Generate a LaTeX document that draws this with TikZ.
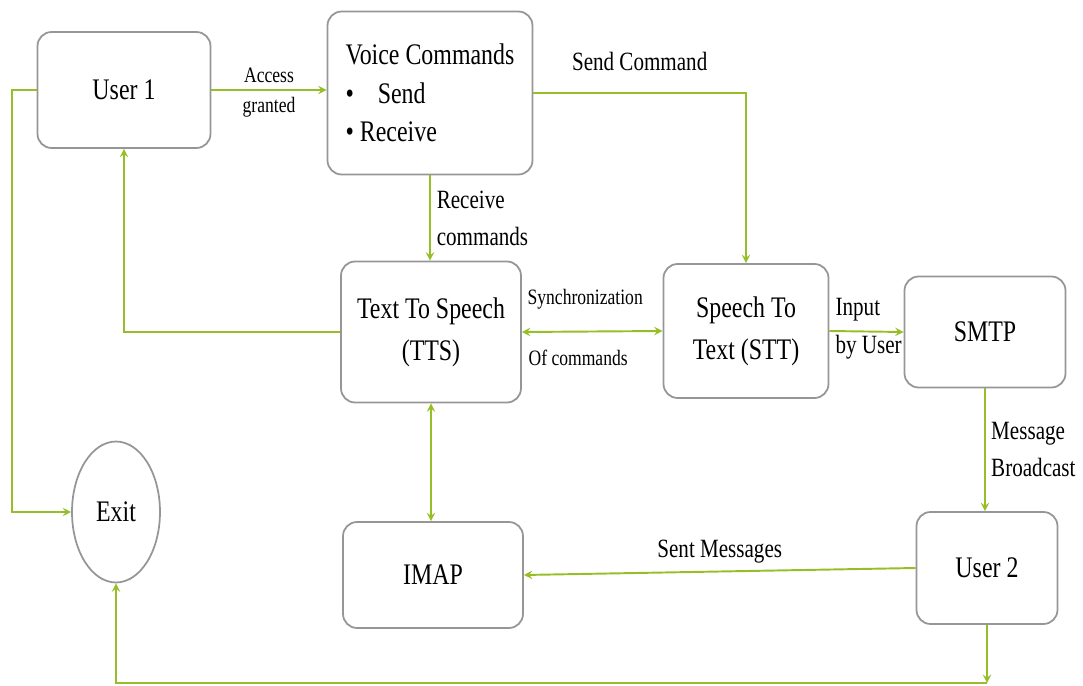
\documentclass[tikz,border=0pt]{standalone}
\usepackage{fontspec}
\setmainfont[FakeStretch=0.8]{Liberation Serif}
\usetikzlibrary{shapes.geometric, arrows}
\definecolor{linegreen}{RGB}{150,190,40}
\definecolor{boxgray}{RGB}{150,150,150}
\tikzstyle{block} = [rectangle, rounded corners=8pt, draw=boxgray, line width=1pt, align=center, inner sep=2pt, font=\fontsize{17}{24}\selectfont]
\tikzstyle{exitnode} = [ellipse, draw=boxgray, line width=1pt, inner sep=0pt, minimum width=1.76cm, minimum height=2.82cm, font=\fontsize{17}{24}\selectfont]
\tikzstyle{lbl} = [font=\fontsize{15}{21}\selectfont]
\tikzstyle{slbl} = [font=\fontsize{12.5}{15}\selectfont]
\tikzstyle{arrow} = [line width=1.1pt, draw=linegreen, ->, >=stealth]
\tikzstyle{darrow} = [arrow, <->]

\begin{document}
\begin{tikzpicture}[x=0.02cm, y=-0.02cm]
				\useasboundingbox (0,0) rectangle (1083,686);
				\node (u1) [block, minimum width=3.46cm, minimum height=2.32cm] at (124,90) {User 1};
				\node (vc) [block, minimum width=4.1cm, minimum height=3.26cm, align=left, font=\fontsize{17}{22}\selectfont] at (430,93) {Voice Commands\\ \textbullet\hspace{0.8em}Send\\ \textbullet\ Receive};
				\node (tts) [block, minimum width=3.6cm, minimum height=2.82cm] at (431,332) {Text To Speech\\(TTS)};
				\node (stt) [block, minimum width=3.3cm, minimum height=2.68cm] at (746,331) {Speech To\\Text (STT)};
				\node (smtp) [block, minimum width=3.22cm, minimum height=2.22cm] at (985,332) {SMTP};
				\node (exit) [exitnode] at (116,512) {Exit};
				\node (imap) [block, minimum width=3.6cm, minimum height=2.12cm] at (433,575) {IMAP};
				\node (u2) [block, minimum width=2.82cm, minimum height=2.24cm] at (987,568) {User 2};

				% bends of the return lines
				\coordinate (lbend) at (12,90);
				\coordinate (bbend) at (987,683);

				\draw [arrow] (u1.east) -- node [slbl, above] {Access} node [slbl, below] {granted} (u1.east -| vc.west);
				\draw [arrow] (vc.east) -| node [lbl, above=0.3cm, pos=0.25] {Send Command} (stt.north);
				\draw [arrow] (vc.south) -- node [lbl, right, align=left] {Receive\\commands} (vc.south |- tts.north);
				\draw [darrow] (tts.east) -- node [slbl, above=0.31cm, pos=0.45] {Synchronization} node [slbl, below=0.23cm, pos=0.4] {Of commands} (stt.west);
				\draw [arrow] (stt.east) -- node [lbl, pos=0, anchor=south west, inner sep=2pt, xshift=1pt, yshift=3pt] {Input} node [lbl, pos=0, anchor=north west, inner sep=2pt, xshift=1pt] {by User} (smtp.west);
				\draw [arrow] (smtp.south) -- node [lbl, right, align=left, inner sep=3pt] {Message\\Broadcast} (smtp.south |- u2.north);
				\draw [darrow] (tts.south) -- (tts.south |- imap.north);
				\draw [arrow] (u2.west) -- node [lbl, above=1pt] {Sent Messages} (imap.east);
				\draw [arrow] (tts.west) -| (u1.south);
				\draw [arrow] (u1.west) -- (lbend) |- (exit.west);
				\draw [arrow] (u2.south) -- (bbend);
				\draw [arrow] (bbend) -| (exit.south);
\end{tikzpicture}
\end{document}
